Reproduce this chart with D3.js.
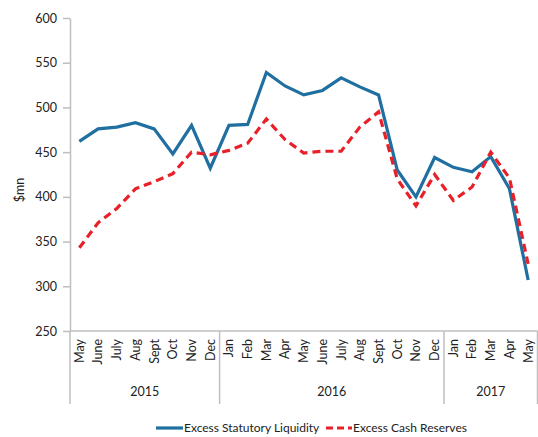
<!DOCTYPE html>
<html>
<head>
<meta charset="utf-8">
<script src="https://cdn.jsdelivr.net/npm/d3@7"></script>
<style>
  html, body { margin: 0; padding: 0; background: #fff; }
  svg { display: block; }
  text { font-family: Lato, "Open Sans", sans-serif; fill: #222; }
</style>
</head>
<body>
<svg id="chart" width="538" height="437"></svg>
<script>
const months = ["May","June","July","Aug","Sept","Oct","Nov","Dec",
                "Jan","Feb","Mar","Apr","May","June","July","Aug","Sept","Oct","Nov","Dec",
                "Jan","Feb","Mar","Apr","May"];
const years = ["2015","2016","2017"];
const yearCounts = [8, 12, 5];
const statutory = [462,476,478,483,476,448,480,432,
                   480,481,539,524,514,519,533,523,514,430,400,444,
                   433,428,445,409,307];
const cashReserves = [343,371,387,409,417,426,450,447,
                      452,460,487,464,449,451,451,478,495,420,390,425,
                      396,411,450,421,325];
const yTicks = [250,300,350,400,450,500,550,600];
const seriesNames = ["Excess Statutory Liquidity","Excess Cash Reserves"];

const svg = d3.select("#chart");
const axisColor = "#bfbfbf";
const blue = "#1f6fa0";
const red = "#e8202a";

const x = d3.scaleBand().domain(d3.range(months.length)).range([70, 537.5]).padding(0);
const y = d3.scaleLinear().domain([250, 600]).range([331, 18]);
const cx = i => x(i) + x.bandwidth() / 2;

// Y axis
const yAxis = svg.append("g").attr("transform", "translate(70,0)")
  .call(d3.axisLeft(y).tickValues(yTicks).tickSize(7).tickSizeOuter(0).tickPadding(6));
yAxis.select(".domain").attr("stroke", axisColor).attr("stroke-width", 1.5);
yAxis.selectAll(".tick line").attr("stroke", axisColor).attr("stroke-width", 1.5);
yAxis.selectAll(".tick text").style("font-size", "12.5px").attr("fill", "#222")
  .style("font-family", "Lato, 'Open Sans', sans-serif");

// Y label
svg.append("text").attr("transform", "translate(24,190) rotate(-90)")
  .attr("text-anchor", "middle").style("font-size", "12.5px").text("$mn");

// X axis line
svg.append("line").attr("x1", 70).attr("x2", x.range()[1]).attr("y1", 331).attr("y2", 331)
  .attr("stroke", axisColor).attr("stroke-width", 1.5);

// group dividers
const starts = [0];
yearCounts.forEach((c, k) => starts.push(starts[k] + c));
const divX = starts.map(s => s < months.length ? x(s) : x.range()[1]);
svg.selectAll("line.div").data(divX).enter().append("line")
  .attr("x1", d => d).attr("x2", d => d).attr("y1", 331).attr("y2", 404)
  .attr("stroke", axisColor).attr("stroke-width", 1.5);

// month labels
svg.selectAll("text.month").data(months).enter().append("text")
  .attr("class", "month")
  .attr("transform", (d, i) => `translate(${cx(i)},339) rotate(-90)`)
  .attr("text-anchor", "end").attr("dy", "0.35em")
  .style("font-size", "12.5px").text(d => d);

// year labels
svg.selectAll("text.year").data(years).enter().append("text")
  .attr("class", "year")
  .attr("x", (d, k) => (divX[k] + divX[k + 1]) / 2).attr("y", 396)
  .attr("text-anchor", "middle").style("font-size", "12.5px").text(d => d);

// lines
const line = d3.line().x((d, i) => cx(i)).y(d => y(d));
svg.append("path").datum(statutory).attr("d", line)
  .attr("fill", "none").attr("stroke", blue).attr("stroke-width", 3.2)
  .attr("stroke-linejoin", "miter");
svg.append("path").datum(cashReserves).attr("d", line)
  .attr("fill", "none").attr("stroke", red).attr("stroke-width", 3.2)
  .attr("stroke-dasharray", "8,5");

// legend
const lg = svg.append("g");
lg.append("line").attr("x1", 156).attr("x2", 183).attr("y1", 428).attr("y2", 428)
  .attr("stroke", blue).attr("stroke-width", 3.2);
lg.append("text").attr("x", 184).attr("y", 432).style("font-size", "12px").text(seriesNames[0]);
lg.append("line").attr("x1", 326).attr("x2", 352).attr("y1", 428).attr("y2", 428)
  .attr("stroke", red).attr("stroke-width", 3.2).attr("stroke-dasharray", "7,4");
lg.append("text").attr("x", 353).attr("y", 432).style("font-size", "12px").text(seriesNames[1]);
</script>
</body>
</html>
